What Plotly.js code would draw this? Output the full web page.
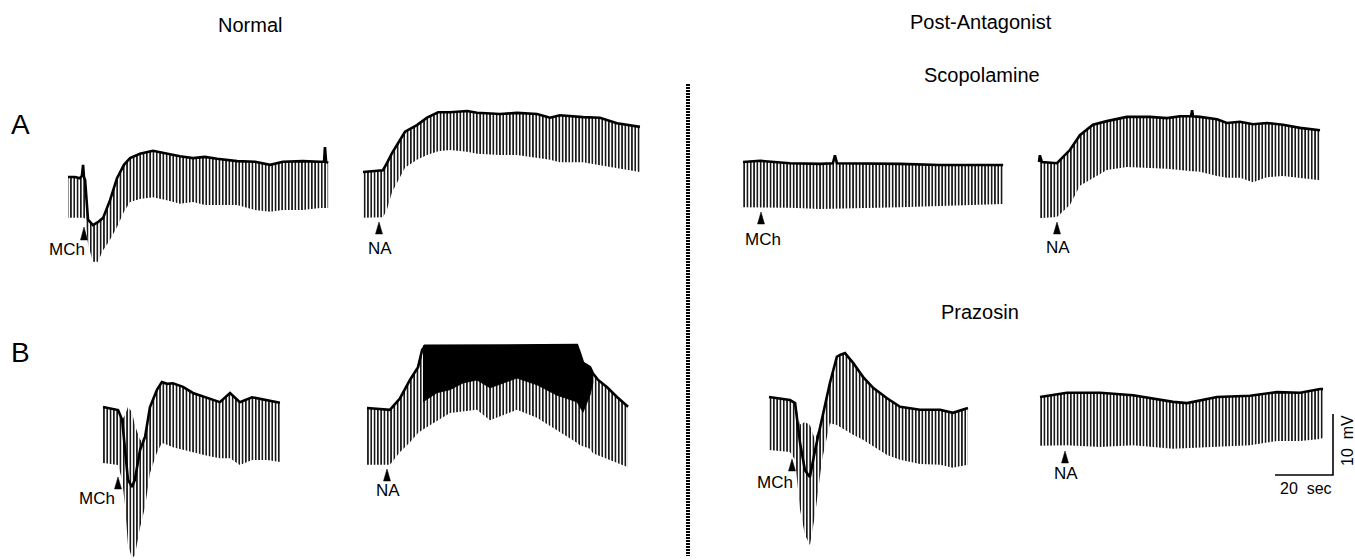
<!DOCTYPE html>
<html><head><meta charset="utf-8">
<script src="https://cdn.plot.ly/plotly-3.0.1.min.js"></script>
<style>html,body{margin:0;padding:0;background:#fff}#chart{width:1355px;height:560px}</style>
</head><body><div id="chart"></div>
<script>
// ---- data: time (sec) and membrane potential (mV, relative to start level) ----
// A, Normal, MCh
const aMchT   = [0,2.4,4.1,4.8,5.2,5.5,5.9,6.9,8.6,10.3,12.1,14.5,16.9,19.3,21.4,24.8,29.3,34.1,38.6,43.1,47.2,51.4,58.3,64.5,69.7,74.1,81.0,86.9,88.3,88.6,89.0,89.7];
const aMchTop = [0,0,-0.2,0.2,2.0,0,-0.5,-7.0,-7.9,-7.4,-6.7,-3.8,-0.2,2.0,3.1,3.8,4.3,3.8,3.4,3.1,3.3,3.0,2.6,2.5,2.0,2.5,2.6,2.5,2.5,4.9,2.5,2.3];
const aMchLow = [-6.7,-6.7,-6.7,-6.7,-6.7,-6.7,-6.9,-11.0,-13.9,-13.9,-12.0,-10.3,-8.2,-5.7,-4.1,-3.6,-3.3,-3.8,-4.4,-4.1,-4.6,-4.6,-4.6,-5.4,-5.7,-5.4,-5.4,-5.1,-5.1,-5.1,-5.1,-5.1];
// A, Normal, NA
const aNaT   = [0,6.9,8.3,10.0,14.5,18.6,22.1,25.9,30.0,35.9,39.3,47.2,53.1,60.0,64.5,67.9,75.9,81.7,87.6,95.5];
const aNaTop = [0,0.3,1.5,3.1,6.6,7.7,8.9,9.8,9.8,10.0,9.7,9.5,9.7,9.5,8.9,9.3,9.0,8.9,8.0,7.4];
const aNaLow = [-7.5,-7.4,-6.1,-3.3,0.7,2.0,2.8,3.4,3.6,3.3,3.0,2.8,2.8,2.3,2.0,1.6,1.6,1.1,0.7,0];
// Scopolamine, MCh
const scMchT   = [0,5.9,16.2,26.6,31.0,31.7,32.4,43.8,54.1,67.9,78.3,89.7];
const scMchTop = [0,0.2,-0.2,-0.3,-0.2,1.1,-0.2,-0.2,-0.3,-0.5,-0.5,-0.5];
const scMchLow = [-7.4,-7.4,-7.5,-7.7,-7.7,-7.7,-7.7,-7.5,-7.4,-7.2,-7.0,-6.9];
// Scopolamine, NA
const scNaT   = [0,0.3,1.0,6.2,10.7,14.1,18.6,23.4,30.3,38.3,44.1,48.6,52.4,52.8,53.1,55.5,61.4,64.8,69.3,73.8,78.6,84.1,90.0,96.9];
const scNaTop = [0,1.1,0,-0.2,2.0,4.4,6.1,6.7,7.4,7.4,7.2,7.5,7.5,8.5,7.5,7.4,7.0,6.4,6.6,6.2,6.4,6.1,5.6,5.2];
const scNaLow = [-9.2,-9.2,-9.2,-9.0,-7.0,-3.9,-2.6,-1.3,-0.8,-1.0,-1.1,-1.3,-1.5,-1.5,-1.5,-1.6,-2.3,-2.6,-2.6,-3.3,-2.5,-2.3,-2.6,-3.0];
// B, Normal, MCh
const bMchT   = [0,5.2,6.6,7.6,8.6,10.0,11.0,12.8,14.5,16.2,18.6,20.3,22.1,24.1,27.6,31.0,35.9,40.3,43.8,47.2,51.4,56.6,61.0];
const bMchTop = [0,-0.5,-2.1,-7.0,-11.9,-13.1,-11.9,-7.0,-4.9,0,2.8,4.1,3.8,3.9,3.3,2.3,1.5,0.8,2.3,0.8,1.6,1.1,0.7];
const bMchHi  = [0,-0.5,-2.1,-1.3,0,-0.8,-3.0,-5.4,-4.9,0,2.8,4.1,3.8,3.9,3.3,2.3,1.5,0.8,2.3,0.8,1.6,1.1,0.7];
const bMchLow = [-9.2,-9.5,-12.0,-16.1,-22.6,-24.8,-24.3,-19.7,-16.4,-10.8,-7.5,-5.9,-6.2,-6.6,-7.0,-7.4,-8.0,-8.4,-8.4,-9.5,-8.7,-8.7,-9.0];
// B, Normal, NA
const bNaT   = [0,7.9,11.4,14.8,17.6,19.0,20.0,28.6,37.9,42.4,51.7,58.6,65.5,72.4,73.4,74.5,76.9,77.9,79.7,82.8,86.2,90.0];
const bNaTop = [0,-0.3,1.6,4.6,6.7,9.5,10.2,10.2,10.2,10.2,10.2,10.3,10.3,10.3,9.0,7.4,6.7,5.7,4.6,3.4,1.8,0.2];
const bNaLow = [-9.3,-9.3,-7.2,-5.6,-4.1,-3.6,-3.3,-0.8,-0.3,-2.0,-0.3,-1.6,-3.6,-5.7,-6.1,-6.2,-6.7,-7.4,-7.7,-8.4,-9.0,-9.7];
const bNaSolidT   = [19.3,24.1,28.6,33.1,37.9,42.4,45.9,51.7,58.6,65.5,72.4,74.5,76.9,77.9];
const bNaSolidTop = [10.2,10.2,10.2,10.2,10.2,10.2,10.2,10.2,10.3,10.3,10.3,7.4,6.7,5.7];
const bNaSolidLow = [1.0,2.5,3.0,4.1,4.6,3.3,3.9,4.9,3.8,2.1,1.0,-0.7,2.1,4.1];
// Prazosin, MCh
const prMchT   = [0,7.2,9.0,10.7,12.4,14.1,15.9,18.3,21.0,23.4,24.5,26.2,29.0,32.4,35.9,40.7,45.2,52.1,59.0,63.4,68.6];
const prMchTop = [0,-0.5,-1.0,-7.5,-12.0,-13.1,-8.7,-3.3,2.3,6.6,6.9,7.2,5.6,3.3,1.5,-0.2,-1.6,-2.1,-2.1,-2.6,-1.8];
const prMchHi  = [0,-0.5,-1.0,-4.5,-4.1,-4.6,-7.0,-3.3,2.3,6.6,6.9,7.2,5.6,3.3,1.5,-0.2,-1.6,-2.1,-2.1,-2.6,-1.8];
const prMchLow = [-8.7,-9.0,-10.3,-18.5,-22.6,-24.3,-19.3,-10.3,-4.3,-4.6,-4.9,-5.4,-6.2,-7.0,-8.0,-9.5,-10.3,-11.0,-11.1,-11.6,-11.1];
// Prazosin, NA
const prNaT   = [0,9.3,20.7,32.1,45.9,50.7,61.0,72.4,81.7,89.7,96.6,97.6];
const prNaTop = [0,0.7,0.7,0.3,-0.8,-1.0,0,0.2,0.8,0.7,1.3,1.3];
const prNaLow = [-8.0,-7.9,-8.2,-7.9,-8.5,-8.4,-8.2,-7.9,-7.2,-7.2,-6.9,-6.7];
// calibration bar
const scaleSec = 20, scaleMv = 10;
// text
const headings = ['Normal','Post-Antagonist','Scopolamine','Prazosin'];
const rowLabels = ['A','B'];
const drugLabels = ['MCh','NA'];

// ---- layout helpers (pixel placement of each record) ----
const W = 1355, H = 560, SX = 2.9, SY = 6.1; // px per sec, px per mV
const FONT = 'Liberation Sans, Arial, Helvetica, sans-serif';
const traces = [];
function panel(ox, oy, t, top, low, hi) {
  const x0 = ox / SX, y0 = -oy / SY;
  const X = t.map(v => x0 + v);
  const up = (hi || top).map(v => y0 + v);
  const dn = low.map(v => y0 + v);
  traces.push({x: X.concat(X.slice().reverse()), y: up.concat(dn.slice().reverse()),
    mode: 'lines', fill: 'toself', line: {width: 0, color: 'rgba(0,0,0,0)'},
    fillcolor: 'rgba(255,255,255,0)',
    fillpattern: {shape: '|', size: 3.3, solidity: 0.45, fgcolor: '#000', bgcolor: 'rgba(255,255,255,0)'},
    hoverinfo: 'skip', showlegend: false});
  traces.push({x: X, y: top.map(v => y0 + v), mode: 'lines',
    line: {color: '#000', width: 2.6}, hoverinfo: 'skip', showlegend: false});
}
function solid(ox, oy, t, top, low) {
  const x0 = ox / SX, y0 = -oy / SY;
  const X = t.map(v => x0 + v);
  traces.push({x: X.concat(X.slice().reverse()),
    y: top.map(v => y0 + v).concat(low.map(v => y0 + v).reverse()),
    mode: 'lines', fill: 'toself', fillcolor: '#000', line: {width: 0.8, color: '#000'},
    hoverinfo: 'skip', showlegend: false});
}
panel(68, 177, aMchT, aMchTop, aMchLow);
panel(363, 172, aNaT, aNaTop, aNaLow);
panel(743, 162, scMchT, scMchTop, scMchLow);
panel(1039, 162, scNaT, scNaTop, scNaLow);
panel(103, 407, bMchT, bMchTop, bMchLow, bMchHi);
panel(367, 408, bNaT, bNaTop, bNaLow);
solid(367, 408, bNaSolidT, bNaSolidTop, bNaSolidLow);
panel(769, 397, prMchT, prMchTop, prMchLow, prMchHi);
panel(1040, 397, prNaT, prNaTop, prNaLow);
// calibration bar, corner at pixel (1333, 475)
(function(){
  const cx = 1333 / SX, cy = -475 / SY;
  traces.push({x: [cx - scaleSec, cx, cx], y: [cy, cy, cy + scaleMv], mode: 'lines',
    line: {color: '#000', width: 1.6}, hoverinfo: 'skip', showlegend: false});
})();

const px = x => x / W, py = y => 1 - y / H;
function txt(s, x, y, size, extra) {
  return Object.assign({text: s, x: px(x), y: py(y), xref: 'paper', yref: 'paper', showarrow: false,
    xanchor: 'center', yanchor: 'middle', font: {family: FONT, size: size, color: '#000'}}, extra || {});
}
const annotations = [
  txt(headings[0], 250, 25, 20), txt(headings[1], 981, 22, 20),
  txt(headings[2], 982, 75, 20), txt(headings[3], 980, 312, 20),
  txt(rowLabels[0], 20, 124, 28), txt(rowLabels[1], 20, 352, 28),
  txt(drugLabels[0], 67, 249, 17), txt(drugLabels[1], 380, 248, 17),
  txt(drugLabels[0], 763, 239, 17), txt(drugLabels[1], 1058, 247, 17),
  txt(drugLabels[0], 97, 498, 17), txt(drugLabels[1], 388, 490, 17),
  txt(drugLabels[0], 775, 482, 17), txt(drugLabels[1], 1066, 473, 17),
  txt('20  sec', 1306, 488, 16), txt('10  mV', 1347, 441, 16, {textangle: -90})
];
function tri(x, yTip, yBase) {
  return {type: 'path', xref: 'paper', yref: 'paper',
    path: `M ${px(x - 3.5)} ${py(yBase)} L ${px(x)} ${py(yTip)} L ${px(x + 3.5)} ${py(yBase)} Z`,
    fillcolor: '#000', line: {color: '#000', width: 0.5}};
}
const shapes = [
  tri(84, 227, 240), tri(379, 222, 234), tri(761, 212, 224), tri(1057, 222, 234),
  tri(118, 477, 489), tri(387, 469, 481), tri(792, 459, 471), tri(1065, 451, 463),
  {type: 'line', xref: 'paper', yref: 'paper', x0: px(688), x1: px(688), y0: py(84), y1: py(556),
   line: {color: '#000', width: 4, dash: '2px,1px'}}
];

const layout = {
  width: W, height: H, autosize: false, margin: {l: 0, r: 0, t: 0, b: 0, pad: 0},
  paper_bgcolor: '#fff', plot_bgcolor: '#fff', showlegend: false,
  xaxis: {range: [0, W / SX], visible: false, fixedrange: true},
  yaxis: {range: [-H / SY, 0], visible: false, fixedrange: true},
  annotations: annotations, shapes: shapes
};
Plotly.newPlot('chart', traces, layout, {staticPlot: true, displayModeBar: false});
</script></body></html>
